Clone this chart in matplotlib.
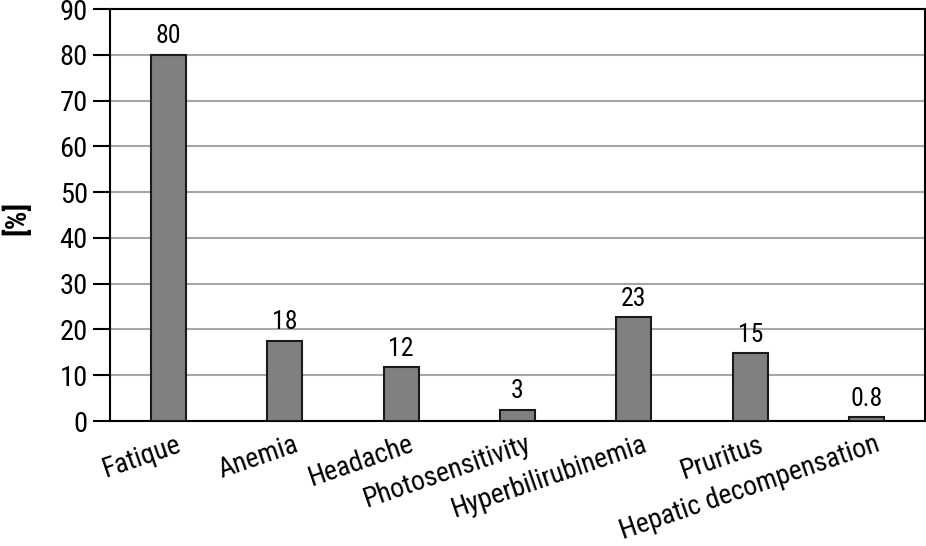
import matplotlib
matplotlib.use("Agg")
import matplotlib.pyplot as plt
from matplotlib import font_manager as fm
from matplotlib.transforms import ScaledTranslation

categories = ["Fatique", "Anemia", "Headache", "Photosensitivity",
              "Hyperbilirubinemia", "Pruritus", "Hepatic decompensation"]
values = [80, 17.5, 11.7, 2.5, 22.7, 14.8, 0.8]
value_labels = ["80", "18", "12", "3", "23", "15", "0.8"]
yticks = [0, 10, 20, 30, 40, 50, 60, 70, 80, 90]

names = {f.name for f in fm.fontManager.ttflist}
fam = "DejaVu Sans"
for cand in ["Liberation Sans Narrow", "DejaVu Sans Condensed", "Roboto Condensed", "Open Sans Condensed"]:
    if cand in names:
        fam = cand
        break
plt.rcParams["font.family"] = [fam, "DejaVu Sans"]

fig = plt.figure(figsize=(9.26, 5.46), dpi=100)
ax = fig.add_axes([110/926, 1-421/546, 815/926, 412/546])

x = list(range(len(categories)))
ax.bar(x, values, width=0.3, color="#808080", edgecolor="#1a1a1a", linewidth=1.5, zorder=3)
for xi, v, lab in zip(x, values, value_labels):
    ax.text(xi, v + 1.4, lab, ha="center", va="bottom", fontsize=18.5, zorder=4)

ax.set_xlim(-0.5, 6.5)
ax.set_ylim(0, 90)
ax.set_yticks(yticks)
ax.set_yticklabels([str(t) for t in yticks], fontsize=20.5)
ax.yaxis.grid(True, color="#a6a6a6", linewidth=1.5, zorder=0)
ax.tick_params(axis="y", length=12, width=1.5, pad=4)
ax.tick_params(axis="x", length=0, pad=7)
ax.set_xticks(x)
ax.set_xticklabels(categories, rotation=19, ha="right", rotation_mode="anchor", fontsize=20)
offset = ScaledTranslation(8/100, 0, fig.dpi_scale_trans)
for lab in ax.get_xticklabels():
    lab.set_transform(lab.get_transform() + offset)
for s in ax.spines.values():
    s.set_linewidth(1.5)
ax.set_ylabel("[%]", fontsize=21, fontweight="bold")
ax.yaxis.set_label_coords(17/926, 0.5, transform=fig.transFigure)
ax.yaxis.label.set_verticalalignment("center")
ax.yaxis.label.set_y(1-218/546)

fig.savefig("out.png", dpi=100)
